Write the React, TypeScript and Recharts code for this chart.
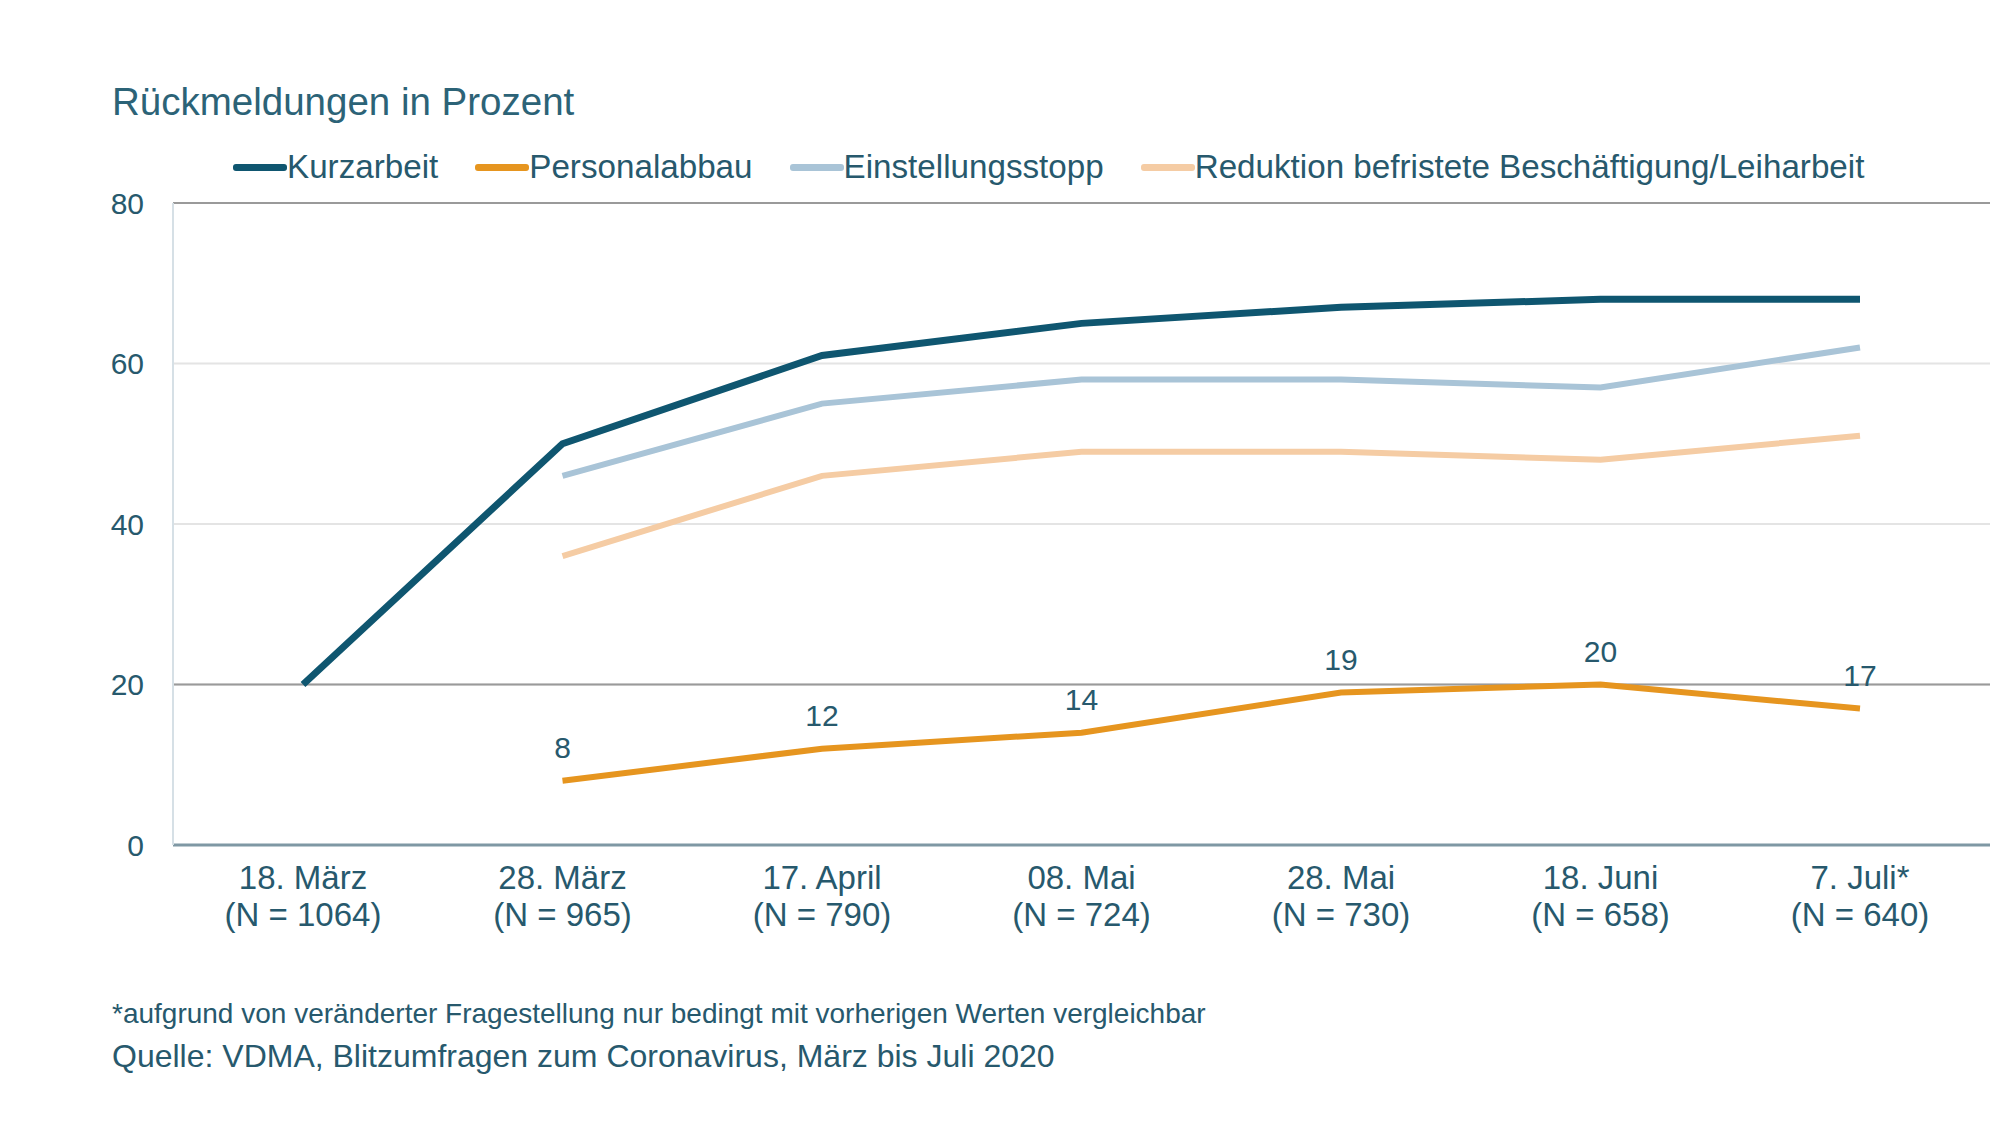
import {
  CartesianGrid,
  LabelList,
  Legend,
  Line,
  LineChart,
  ReferenceLine,
  XAxis,
  YAxis,
} from "recharts";

const categories = ["18. März", "28. März", "17. April", "08. Mai", "28. Mai", "18. Juni", "7. Juli*"];
const sampleSizes = [1064, 965, 790, 724, 730, 658, 640];
const kurzarbeit = [20, 50, 61, 65, 67, 68, 68];
const personalabbau = [null, 8, 12, 14, 19, 20, 17];
const einstellungsstopp = [null, 46, 55, 58, 58, 57, 62];
const reduktion = [null, 36, 46, 49, 49, 48, 51];
const yTicks = [0, 20, 40, 60, 80];

const TEXT = "#27596d";
const FONT = "'Liberation Sans', Arial, sans-serif";

const series = [
  { key: "kurzarbeit", name: "Kurzarbeit", color: "#0f5670" },
  { key: "personalabbau", name: "Personalabbau", color: "#e6951f" },
  { key: "einstellungsstopp", name: "Einstellungsstopp", color: "#a9c4d7" },
  { key: "reduktion", name: "Reduktion befristete Beschäftigung/Leiharbeit", color: "#f5cca4" },
];

const data = categories.map((c, i) => ({
  date: c,
  n: sampleSizes[i],
  kurzarbeit: kurzarbeit[i],
  personalabbau: personalabbau[i],
  einstellungsstopp: einstellungsstopp[i],
  reduktion: reduktion[i],
}));

const DateTick = (props: any) => {
  const { x, y, payload } = props;
  const row = data[payload.index];
  return (
    <g>
      <text x={x} y={y + 32} textAnchor="middle" dominantBaseline="central" fill={TEXT} fontSize={33} fontFamily={FONT}>
        {row.date}
      </text>
      <text x={x} y={y + 69} textAnchor="middle" dominantBaseline="central" fill={TEXT} fontSize={33} fontFamily={FONT}>
        (N = {row.n})
      </text>
    </g>
  );
};

const LegendBox = () => (
  <div style={{ display: "flex", gap: 37, paddingLeft: 233, fontFamily: FONT, fontSize: 33.2, color: TEXT, lineHeight: "38px" }}>
    {series.map((s) => (
      <div key={s.key} style={{ display: "flex", alignItems: "center" }}>
        <span style={{ width: 54, height: 7, borderRadius: 3, background: s.color, display: "inline-block" }} />
        <span>{s.name}</span>
      </div>
    ))}
  </div>
);

export default function App() {
  return (
    <div style={{ position: "absolute", top: 0, left: 0, width: 2000, height: 1127, background: "#fff", fontFamily: FONT }}>
      <div style={{ position: "absolute", left: 112, top: 79, fontSize: 38.5, color: "#2c6377", lineHeight: "46px" }}>
        Rückmeldungen in Prozent
      </div>
      <LineChart
        width={2000}
        height={1127}
        data={data}
        margin={{ top: 165, right: 10, bottom: 281, left: 113 }}
      >
        <CartesianGrid vertical={false} stroke="#e4e4e4" strokeWidth={2} />
        <ReferenceLine y={80} stroke="#9a9a9a" strokeWidth={2} />
        <ReferenceLine y={20} stroke="#9a9a9a" strokeWidth={2} />
        <XAxis
          dataKey="date"
          tick={<DateTick />}
          tickLine={false}
          tickSize={0}
          tickMargin={0}
          axisLine={{ stroke: "#7f98a4", strokeWidth: 3 }}
          interval={0}
          padding={{ left: 130, right: 130 }}
          height={1}
        />
        <YAxis
          domain={[0, 80]}
          ticks={yTicks}
          width={60}
          tickLine={false}
          tickSize={0}
          tickMargin={29}
          axisLine={{ stroke: "#d6e0e6", strokeWidth: 2 }}
          tick={{ fill: TEXT, fontSize: 30, fontFamily: FONT }}
        />
        <Legend
          verticalAlign="top"
          height={38}
          content={<LegendBox />}
          wrapperStyle={{ top: 148, left: 0, width: 2000 }}
        />
        <Line dataKey="reduktion" name="Reduktion befristete Beschäftigung/Leiharbeit" stroke="#f5cca4" strokeWidth={6} dot={false} isAnimationActive={false} />
        <Line dataKey="einstellungsstopp" name="Einstellungsstopp" stroke="#a9c4d7" strokeWidth={6} dot={false} isAnimationActive={false} />
        <Line dataKey="personalabbau" name="Personalabbau" stroke="#e6951f" strokeWidth={6} dot={false} isAnimationActive={false}>
          <LabelList dataKey="personalabbau" position="top" offset={23} fill={TEXT} fontSize={30} fontFamily={FONT} />
        </Line>
        <Line dataKey="kurzarbeit" name="Kurzarbeit" stroke="#0f5670" strokeWidth={7} dot={false} isAnimationActive={false} />
      </LineChart>
      <div style={{ position: "absolute", left: 112, top: 997, fontSize: 28, color: TEXT, lineHeight: "34px" }}>
        *aufgrund von veränderter Fragestellung nur bedingt mit vorherigen Werten vergleichbar
      </div>
      <div style={{ position: "absolute", left: 112, top: 1037, fontSize: 32, color: TEXT, lineHeight: "38px" }}>
        Quelle: VDMA, Blitzumfragen zum Coronavirus, März bis Juli 2020
      </div>
    </div>
  );
}
